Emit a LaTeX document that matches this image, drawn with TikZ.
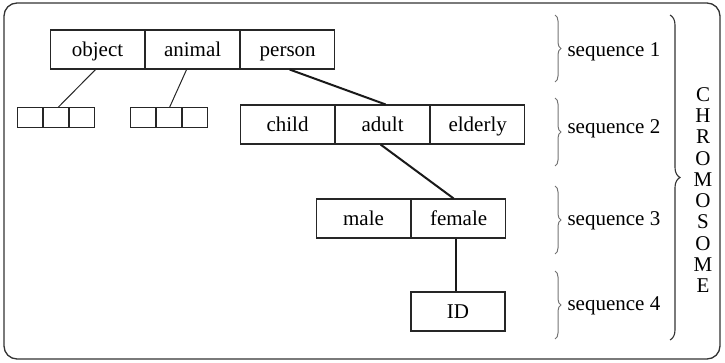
\documentclass[tikz,border=0pt]{standalone}
\usepackage{fontspec}
\setmainfont{Liberation Serif}
\usetikzlibrary{decorations.pathreplacing}
\begin{document}
\begin{tikzpicture}[x=1pt,y=-1pt,
  cell/.style={draw=black!85,line width=1.1pt,minimum width=94pt,minimum height=39pt,inner sep=0pt,text height=16pt,text depth=2pt,font=\fontsize{21}{24}\selectfont},
  small/.style={draw=black!85,line width=1pt,minimum width=25pt,minimum height=20pt,inner sep=0pt},
  thin/.style={black!85,line width=1pt},
  thick/.style={black!90,line width=2pt},
  br/.style={decorate,decoration={brace,amplitude=6pt},black!55,line width=1pt},
  lbl/.style={font=\fontsize{21}{24}\selectfont,anchor=west}
]
\useasboundingbox (0,0) rectangle (725,363);
\draw[black!80,line width=1.3pt,rounded corners=13pt] (4,3) rectangle (720,359);
% row 1
\node[cell] (object) at (97.5,49.5) {object};
\node[cell,anchor=west] (animal) at (object.east) {animal};
\node[cell,anchor=west] (person) at (animal.east) {person};
% small cells
\node[small] (a1) at (30,118) {};
\node[small,anchor=west] (a2) at (a1.east) {};
\node[small,anchor=west] (a3) at (a2.east) {};
\node[small] (b1) at (142.5,118) {};
\node[small,anchor=west] (b2) at (b1.east) {};
\node[small,anchor=west] (b3) at (b2.east) {};
% row 2
\node[cell] (child) at (287.5,124.5) {child};
\node[cell,anchor=west] (adult) at (child.east) {adult};
\node[cell,anchor=west] (elderly) at (adult.east) {elderly};
% row 3
\node[cell] (male) at (363.5,218.5) {male};
\node[cell,anchor=west] (female) at (male.east) {female};
% row 4
\node[cell] (id) at (458,311.5) {ID};
% connectors
\coordinate (ob) at ([xshift=-2pt]object.south);
\coordinate (an) at ([xshift=-6pt]animal.south);
\draw[thin] (ob) -- ([xshift=2pt]a2.north);
\draw[thin] (an) -- ([xshift=1pt]b2.north);
\draw[thick] ([xshift=2pt]person.south) -- ([xshift=3pt]adult.north);
\draw[thick] ([xshift=-2pt]adult.south) -- ([xshift=-5pt]female.south |- female.north);
\draw[thick] ([xshift=-3pt]female.south) -- ([xshift=-3pt]female.south |- id.north);
% braces
\draw[br] (555,15) -- (555,82) node[midway] (s1) {};
\draw[br] (555,98) -- (555,166) node[midway] (s2) {};
\draw[br] (555,186) -- (555,254) node[midway] (s3) {};
\draw[br] (555,271) -- (555,339) node[midway] (s4) {};
\node[lbl] (l1) at (564,52) {sequence 1};
\node[lbl] (l2) at (564,129) {sequence 2};
\node[lbl] (l3) at (564,221) {sequence 3};
\node[lbl] (l4) at (564,306) {sequence 4};
\draw[decorate,decoration={brace,amplitude=10pt},black!80,line width=1.1pt] (670,15) -- (670,340);
\node[font=\fontsize{21}{21.3}\selectfont,align=center,inner sep=0pt] (chrom) at (703,190) {C\\H\\R\\O\\M\\O\\S\\O\\M\\E};
\end{tikzpicture}
\end{document}
